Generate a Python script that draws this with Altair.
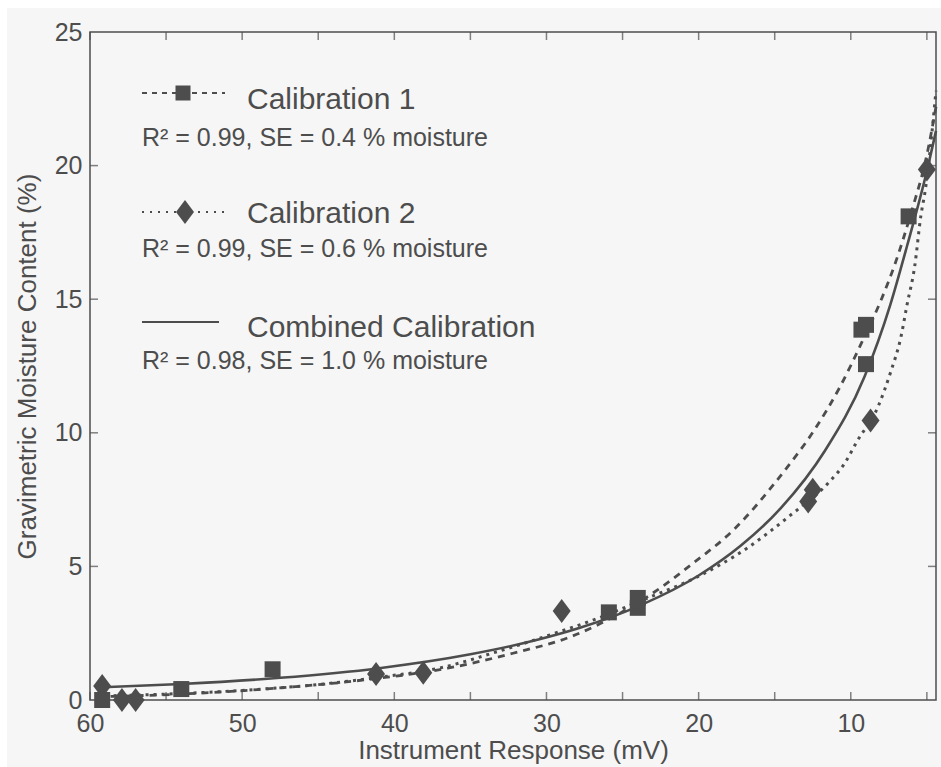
import altair as alt
import pandas as pd

# ---------------- data ----------------
cal1_x = [59.2, 54.0, 48.0, 25.9, 24.0, 24.0, 9.3, 9.0, 9.0, 6.2]
cal1_y = [0.0, 0.41, 1.15, 3.28, 3.82, 3.45, 13.86, 14.04, 12.57, 18.1]

cal2_x = [59.2, 57.9, 57.0, 41.2, 38.1, 29.0, 12.8, 12.5, 8.7, 5.0]
cal2_y = [0.52, 0.0, 0.0, 0.97, 1.02, 3.33, 7.43, 7.87, 10.46, 19.85]

fit1_x = [59.5, 56.4, 52.0, 47.8, 42.0, 36.5, 32.2, 28.4, 25.0, 22.7, 20.5, 17.7,
          14.4, 12.4, 10.7, 9.2, 8.0, 7.15, 6.0, 5.0, 4.4]
fit1_y = [0.12, 0.17, 0.28, 0.44, 0.75, 1.19, 1.75, 2.37, 3.3, 4.12, 5.06, 6.37,
          8.55, 10.1, 11.73, 13.48, 14.98, 16.23, 18.3, 20.4, 22.2]

fit2_x = [59.5, 55.0, 50.0, 45.0, 41.0, 37.0, 33.0, 29.7, 26.9, 23.2, 20.3, 16.8,
          14.0, 11.5, 10.4, 9.6, 8.2, 7.4, 6.7, 6.3, 5.8, 5.4, 5.1, 4.4]
fit2_y = [0.15, 0.22, 0.36, 0.58, 0.85, 1.2, 1.85, 2.45, 3.0, 3.85, 4.55, 5.69,
          6.9, 8.11, 8.86, 9.67, 10.99, 12.24, 13.6, 14.8, 16.23, 18.1, 19.1, 22.8]

fitc_x = [59.5, 54.0, 47.5, 41.0, 35.0, 30.4, 27.8, 23.8, 20.0, 17.2, 14.6, 11.7,
          9.1, 7.4, 6.3, 5.0, 4.4]
fitc_y = [0.47, 0.60, 0.83, 1.19, 1.71, 2.28, 2.70, 3.55, 4.66, 5.79, 7.18, 9.33,
          12.1, 14.8, 17.0, 19.8, 21.3]

x_tick_values = [60, 55, 50, 45, 40, 35, 30, 25, 20, 15, 10, 5]
x_label_values = [60, 50, 40, 30, 20, 10]
y_tick_values = [0, 5, 10, 15, 20, 25]
y_inner_ticks = [5, 10, 15, 20]

legend_names = ["Calibration 1", "Calibration 2", "Combined Calibration"]
legend_stats = ["R\u00b2 = 0.99, SE = 0.4 % moisture",
                "R\u00b2 = 0.99, SE = 0.6 % moisture",
                "R\u00b2 = 0.98, SE = 1.0 % moisture"]

x_title = "Instrument Response (mV)"
y_title = "Gravimetric Moisture Content (%)"

# ---------------- styling ----------------
W, H = 846, 668
INK = "#4d4d4d"
BG = "#f6f6f6"
FONT = "Liberation Sans, Arial, Helvetica, sans-serif"
TICK = 8
DIAMOND = "M0,-1.2L0.9,0L0,1.2L-0.9,0Z"

xscale = alt.Scale(domain=[4.4, 60], reverse=True, nice=False, zero=False)
yscale = alt.Scale(domain=[0, 25], nice=False, zero=True)

xaxis = alt.Axis(values=x_label_values, title=x_title, grid=False, ticks=False,
                 tickSize=0, domain=False, labelFontSize=25, labelFont=FONT,
                 labelColor=INK, labelPadding=11, labelOverlap=False, labelFlush=False,
                 titleFont=FONT, titleFontSize=26, titleFontWeight="normal",
                 titleColor=INK, titlePadding=1)
yaxis = alt.Axis(values=y_tick_values, title=y_title, grid=False, ticks=False,
                 tickSize=0, domain=False, labelFontSize=25, labelFont=FONT,
                 labelColor=INK, labelPadding=8, labelOverlap=False, labelFlush=False,
                 titleFont=FONT, titleFontSize=26, titleFontWeight="normal",
                 titleColor=INK, titlePadding=14)

X = alt.X("x:Q", scale=xscale, axis=xaxis, title=x_title)
Y = alt.Y("y:Q", scale=yscale, axis=yaxis, title=y_title)

one = pd.DataFrame({"a": [0]})


def xy(df_x, df_y):
    return pd.DataFrame({"x": df_x, "y": df_y})


# white strips at the top and left of the figure
strip_top = alt.Chart(one).mark_rect(color="white").encode(
    x=alt.value(-90), x2=alt.value(851), y=alt.value(-32), y2=alt.value(-24))
strip_left = alt.Chart(one).mark_rect(color="white").encode(
    x=alt.value(-90), x2=alt.value(-83), y=alt.value(-32), y2=alt.value(735))

# fitted curves
line_c = alt.Chart(xy(fitc_x, fitc_y)).mark_line(
    color=INK, strokeWidth=2.6, interpolate="monotone").encode(x=X, y=Y)
line_1 = alt.Chart(xy(fit1_x, fit1_y)).mark_line(
    color=INK, strokeWidth=2.8, strokeDash=[7, 6], interpolate="monotone").encode(x=X, y=Y)
line_2 = alt.Chart(xy(fit2_x, fit2_y)).mark_line(
    color=INK, strokeWidth=3, strokeDash=[3, 5], interpolate="monotone").encode(x=X, y=Y)

# observations
pts_1 = alt.Chart(xy(cal1_x, cal1_y)).mark_point(
    shape="square", filled=True, size=256, color=INK, opacity=1).encode(x=X, y=Y)
pts_2 = alt.Chart(xy(cal2_x, cal2_y)).mark_point(
    shape=DIAMOND, filled=True, size=400, color=INK, opacity=1).encode(x=X, y=Y)

# inward tick marks on all four sides
xt_bottom = pd.DataFrame({"x": x_tick_values, "y": [y_tick_values[0]] * len(x_tick_values)})
xt_top = pd.DataFrame({"x": x_tick_values, "y": [y_tick_values[-1]] * len(x_tick_values)})
yt_left = pd.DataFrame({"y": y_inner_ticks, "x": [60] * len(y_inner_ticks)})
yt_right = pd.DataFrame({"y": y_inner_ticks, "x": [4.4] * len(y_inner_ticks)})

tick_bottom = alt.Chart(xt_bottom).mark_tick(
    orient="vertical", color=INK, thickness=1.5, size=TICK, yOffset=-TICK / 2).encode(x=X, y=Y)
tick_top = alt.Chart(xt_top).mark_tick(
    orient="vertical", color=INK, thickness=1.5, size=TICK, yOffset=TICK / 2).encode(x=X, y=Y)
tick_left = alt.Chart(yt_left).mark_tick(
    orient="horizontal", color=INK, thickness=1.5, size=TICK, xOffset=TICK / 2).encode(x=X, y=Y)
tick_right = alt.Chart(yt_right).mark_tick(
    orient="horizontal", color=INK, thickness=1.5, size=TICK, xOffset=-TICK / 2).encode(x=X, y=Y)

# legend (inside the plot, upper left)
LX0 = 52
rows_y = [61, 180, 290]       # line sample rows
name_base = [77, 191, 305]    # baselines of the names
stat_base = [114, 225, 337]   # baselines of the statistics lines
line_ends = [135, 138, 129]
dashes = [[5, 5], [2, 6], None]

legend_layers = []
for i in range(3):
    kw = dict(color=INK, strokeWidth=2.2)
    if dashes[i] is not None:
        kw["strokeDash"] = dashes[i]
    legend_layers.append(alt.Chart(one).mark_rule(**kw).encode(
        x=alt.value(LX0), x2=alt.value(line_ends[i]), y=alt.value(rows_y[i])))
legend_layers.append(alt.Chart(one).mark_point(
    shape="square", filled=True, size=225, color=INK, opacity=1).encode(
    x=alt.value(93), y=alt.value(rows_y[0])))
legend_layers.append(alt.Chart(one).mark_point(
    shape=DIAMOND, filled=True, size=400, color=INK, opacity=1).encode(
    x=alt.value(95), y=alt.value(rows_y[1])))
for i in range(3):
    legend_layers.append(alt.Chart(pd.DataFrame({"t": [legend_names[i]]})).mark_text(
        align="left", baseline="alphabetic", font=FONT, fontSize=30, color=INK).encode(
        x=alt.value(157), y=alt.value(name_base[i]), text="t:N"))
    legend_layers.append(alt.Chart(pd.DataFrame({"t": [legend_stats[i]]})).mark_text(
        align="left", baseline="alphabetic", font=FONT, fontSize=25, color=INK).encode(
        x=alt.value(LX0), y=alt.value(stat_base[i]), text="t:N"))

chart = alt.layer(
    line_c, strip_top, strip_left, line_1, line_2, pts_1, pts_2,
    tick_bottom, tick_top, tick_left, tick_right, *legend_layers
).properties(
    width=W, height=H,
    autosize=alt.AutoSizeParams(type="none"),
    padding={"left": 90, "top": 32, "right": 5, "bottom": 67},
    background=BG,
).configure_view(stroke=INK, strokeWidth=1.5)

chart.save("out.html", embed_options={"renderer": "svg", "actions": False})
